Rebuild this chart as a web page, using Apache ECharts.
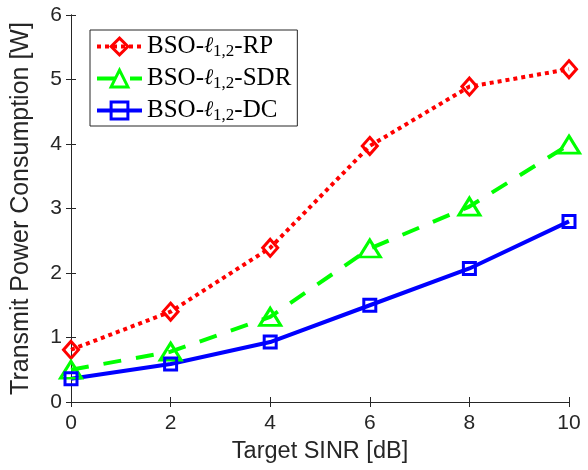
<!DOCTYPE html>
<html><head><meta charset="utf-8">
<script src="https://cdn.jsdelivr.net/npm/echarts@6/dist/echarts.min.js"></script>
<style>html,body{margin:0;padding:0;background:#fff}#c{width:588px;height:470px}</style>
</head><body><div id="c"></div>
<script>
var xValues = [0, 2, 4, 6, 8, 10];
var rpValues = [0.81, 1.40, 2.39, 3.97, 4.89, 5.16];
var sdrValues = [0.50, 0.78, 1.32, 2.38, 3.03, 3.99];
var dcValues = [0.36, 0.59, 0.93, 1.50, 2.07, 2.80];
var seriesNames = ['RP', 'SDR', 'DC'];
var xTicks = [0, 2, 4, 6, 8, 10];
var yTicks = [0, 1, 2, 3, 4, 5, 6];

function pairs(v){ return xValues.map(function(x,i){ return [x, v[i]]; }); }
var axisColor = '#262626';
var chart = echarts.init(document.getElementById('c'));
var common = {type:'line', z:3};
chart.setOption({
  animation:false,
  backgroundColor:'#fff',
  grid:{left:71, right:19, top:15, bottom:68},
  legend:{
    left:90, top:30, orient:'vertical',
    backgroundColor:'#fff', borderColor:axisColor, borderWidth:1,
    padding:[3,6,2,5], itemGap:5, itemWidth:45, itemHeight:21,
    lineStyle:{width:4}, itemStyle:{borderWidth:3},
    data:seriesNames,
    formatter:function(n){ return '{a|BSO-}{i|ℓ}{s|1,2}{a|-'+n+'}'; },
    textStyle:{
      fontFamily:'Liberation Serif', fontSize:25, color:'#000',
      rich:{
        a:{fontFamily:'Liberation Serif', fontSize:25, color:'#000', lineHeight:27},
        i:{fontFamily:'DejaVu Serif', fontStyle:'italic', fontSize:22, color:'#000', lineHeight:27},
        s:{fontFamily:'Liberation Serif', fontSize:17, color:'#000', verticalAlign:'bottom', lineHeight:27, padding:[10,0,0,0]}
      }
    }
  },
  xAxis:[{
    type:'value', min:0, max:10, interval:2,
    name:'Target SINR [dB]', nameLocation:'middle', nameGap:38,
    nameTextStyle:{fontFamily:'Liberation Sans', fontSize:23.5, color:axisColor},
    axisLine:{lineStyle:{color:axisColor, width:1}},
    axisTick:{inside:true, length:5, lineStyle:{color:axisColor}},
    axisLabel:{fontFamily:'Liberation Sans', fontSize:21, color:axisColor, margin:11},
    splitLine:{show:false}
  },{
    type:'value', position:'top', min:0, max:10, interval:2,
    axisLine:{show:true, lineStyle:{color:axisColor, width:1}},
    axisTick:{inside:true, length:5, lineStyle:{color:axisColor}},
    axisLabel:{show:false}, splitLine:{show:false}
  }],
  yAxis:[{
    type:'value', min:0, max:6, interval:1,
    name:'Transmit Power Consumption [W]', nameLocation:'middle', nameGap:37,
    nameTextStyle:{fontFamily:'Liberation Sans', fontSize:25, color:axisColor},
    axisLine:{show:true, lineStyle:{color:axisColor, width:1}},
    axisTick:{show:true, inside:true, length:5, lineStyle:{color:axisColor}},
    axisLabel:{fontFamily:'Liberation Sans', fontSize:21, color:axisColor, margin:9},
    splitLine:{show:false}
  },{
    type:'value', position:'right', min:0, max:6, interval:1,
    axisLine:{show:true, lineStyle:{color:axisColor, width:1}},
    axisTick:{show:true, inside:true, length:5, lineStyle:{color:axisColor}},
    axisLabel:{show:false}, splitLine:{show:false}
  }],
  series:[
    Object.assign({}, common, {name:'RP', data:pairs(rpValues), symbol:'diamond', symbolSize:[15,17],
      lineStyle:{color:'#ff0000', width:4, type:[4,4]},
      itemStyle:{color:'rgba(255,255,255,0)', borderColor:'#ff0000', borderWidth:3}}),
    Object.assign({}, common, {name:'SDR', data:pairs(sdrValues), symbol:'triangle', symbolSize:[21,17],
      lineStyle:{color:'#00ff00', width:4, type:[18,15]},
      itemStyle:{color:'rgba(255,255,255,0)', borderColor:'#00ff00', borderWidth:3}}),
    Object.assign({}, common, {name:'DC', data:pairs(dcValues), symbol:'rect', symbolSize:[12,12],
      lineStyle:{color:'#0000ff', width:4, type:'solid'},
      itemStyle:{color:'rgba(255,255,255,0)', borderColor:'#0000ff', borderWidth:3}})
  ]
});
</script></body></html>
